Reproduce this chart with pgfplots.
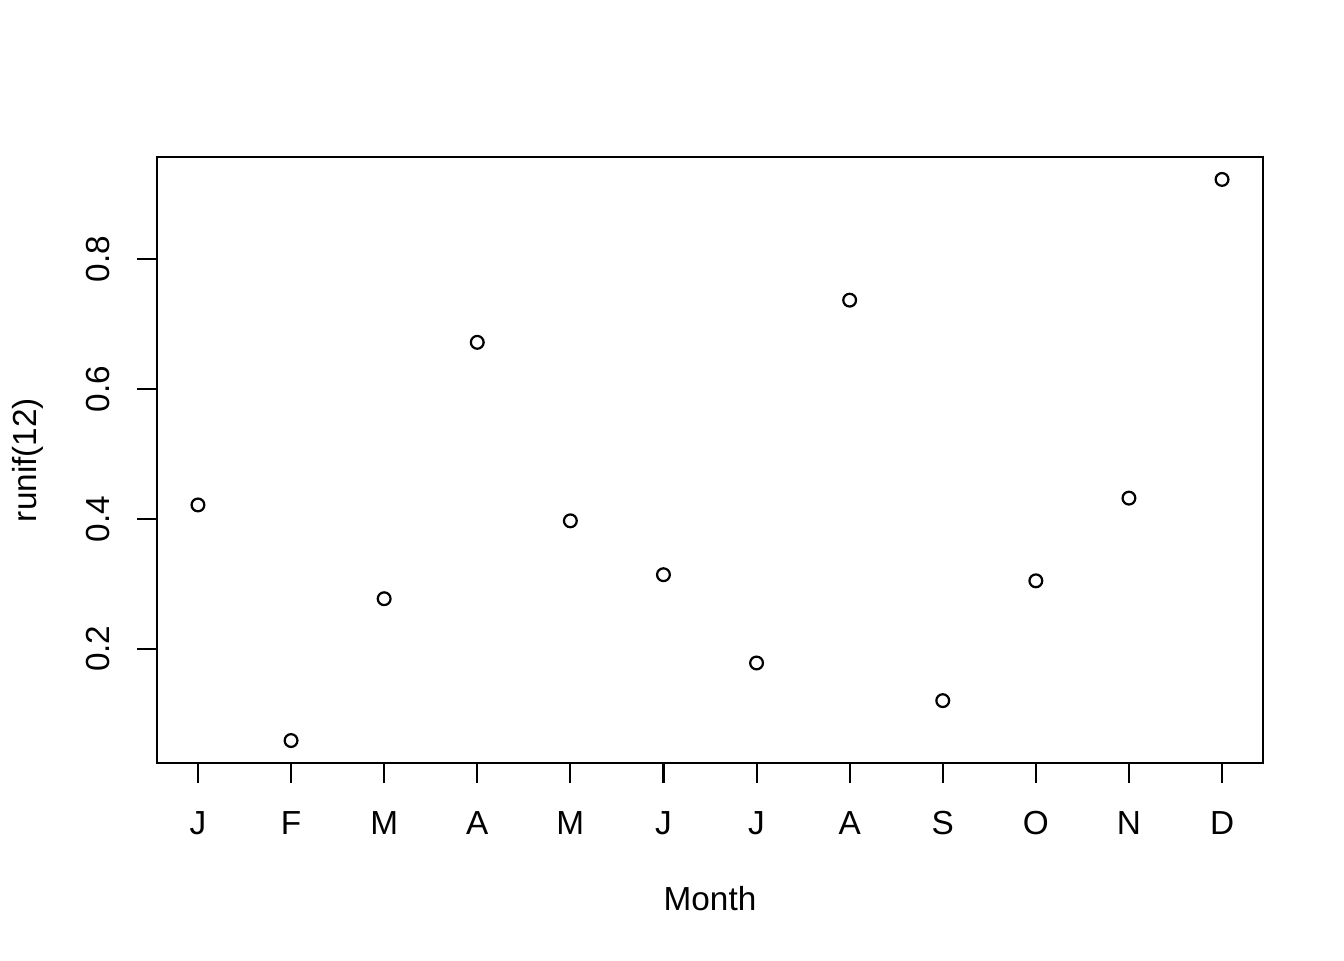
\documentclass[border=0pt]{standalone}
\usepackage{pgfplots}
\pgfplotsset{compat=1.18}
\usepackage{fontspec}
\setmainfont{Liberation Sans}
\begin{document}
\fontsize{12pt}{14.4pt}\selectfont
\begin{tikzpicture}
\path[use as bounding box] (0,0) rectangle (483.84pt,345.6pt);
\begin{axis}[
  at={(56.52pt,70.92pt)}, anchor=south west,
  scale only axis, width=398.16pt, height=218.16pt,
  xmin=0.56, xmax=12.44, ymin=0.0239, ymax=0.9576,
  axis line style={line width=0.75pt},
  every tick/.style={line width=0.75pt, black},
  tick align=outside, major tick length=7.2pt,
  xtick={1,...,12},
  xticklabels={J,F,M,A,M,J,J,A,S,O,N,D},
  ytick={0.2,0.4,0.6,0.8},
  xtick pos=bottom, ytick pos=left,
  /pgf/number format/assume math mode=true,
  /pgf/number format/fixed, /pgf/number format/precision=1,
  yticklabel style={xshift=-9.72pt, rotate=90, anchor=base, inner sep=0pt},
  xticklabel style={anchor=base, yshift=-18.36pt, inner sep=0pt},
  xlabel={Month}, ylabel={runif(12)},
  xlabel style={at={(axis description cs:0.5,-0.24257)}, anchor=base, inner sep=0pt},
  ylabel style={at={(axis description cs:-0.1085,0.5)}, anchor=base, rotate=0, inner sep=0pt},
  tick label style={font=\fontsize{12pt}{14.4pt}\selectfont},
  label style={font=\fontsize{12pt}{14.4pt}\selectfont},
]
\addplot[only marks, mark=o, mark size=2.3pt, line width=0.8pt, black] coordinates {
(1,0.4215) (2,0.0585) (3,0.277) (4,0.672) (5,0.397) (6,0.314)
(7,0.178) (8,0.737) (9,0.120) (10,0.3046) (11,0.432) (12,0.923)
};
\end{axis}
\end{tikzpicture}
\end{document}
